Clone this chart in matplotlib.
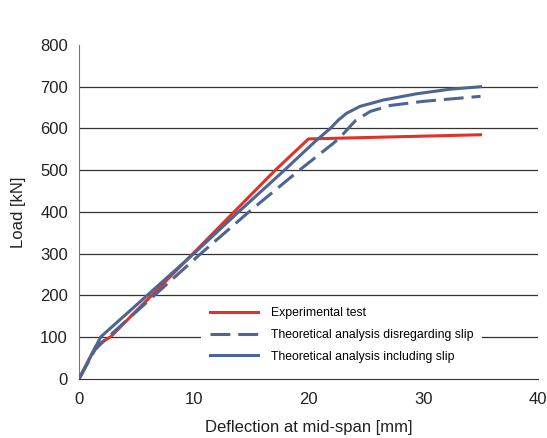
import matplotlib.pyplot as plt

plt.rcParams['font.family'] = ['Liberation Sans', 'DejaVu Sans']

# Load-deflection curves (deflection in mm, load in kN)
exp_x = [0, 1.5, 2.75, 10, 17.1, 20.0, 35]
exp_y = [0, 80, 101, 302, 500, 575, 585]

noslip_x = [0, 1.4, 2.2, 10.6, 14.8, 19.2, 22.1, 22.7, 24.1, 25.4, 27.1, 30, 35]
noslip_y = [0, 70, 92, 300, 400, 500, 563, 577, 619, 641, 655, 665, 677]

slip_x = [0, 1.3, 1.9, 10.0, 13.9, 17.9, 20.7, 21.9, 22.6, 23.3, 24.5, 26.5, 29.4, 32.3, 35]
slip_y = [0, 69, 101, 300, 400, 500, 572, 600, 620, 636, 653, 668, 683, 694, 700]

fig = plt.figure(figsize=(5.47, 4.38), dpi=100)
ax = fig.add_axes([0.1444, 0.1347, 0.839, 0.7626])

red = '#e0322a'
blue = '#4d6590'

ax.plot(exp_x, exp_y, color=red, lw=2.2, label='Experimental test', zorder=3)
ax.plot(noslip_x, noslip_y, color=blue, lw=2.2, ls=(0, (6.5, 2.6)),
        label='Theoretical analysis disregarding slip', zorder=4)
ax.plot(slip_x, slip_y, color=blue, lw=2.2,
        label='Theoretical analysis including slip', zorder=4)

ax.set_xlim(0, 40)
ax.set_ylim(0, 800)
ax.set_xticks([0, 10, 20, 30, 40])
ax.set_yticks(range(0, 801, 100))

for y in range(100, 701, 100):
    ax.axhline(y, color='#333333', lw=0.9, zorder=1)

for s in ['top', 'right']:
    ax.spines[s].set_visible(False)
ax.spines['left'].set_color('#777777')
ax.spines['bottom'].set_color('#333333')
ax.tick_params(length=0, labelsize=12, colors='#222222')
ax.tick_params(axis='x', pad=9)
ax.tick_params(axis='y', pad=8)

ax.set_xlabel('Deflection at mid-span [mm]', fontsize=12, color='#222222', labelpad=10)
ax.set_ylabel('Load [kN]', fontsize=12, color='#222222', labelpad=10)

leg = ax.legend(loc='center left', bbox_to_anchor=(0.2658, 0.1317), borderaxespad=0,
                frameon=True, fontsize=8.8, handlelength=4.0, handletextpad=1.05,
                borderpad=0.7, labelspacing=0.79)
leg.get_frame().set_edgecolor('none')
leg.get_frame().set_facecolor('white')
leg.get_frame().set_alpha(1)
leg.get_frame().set_boxstyle('square', pad=0)
leg.set_zorder(5)

fig.savefig('out.png', dpi=100)
